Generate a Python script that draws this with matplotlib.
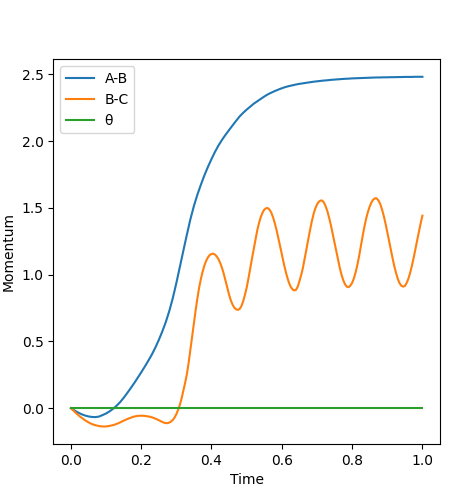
import matplotlib
matplotlib.use("Agg")
import matplotlib.pyplot as plt
import numpy as np

# time grids: A-B and theta every 0.01, B-C every 0.005 (it oscillates)
t_ab = np.linspace(0, 1, 101)
t_bc = np.linspace(0, 1, 201)

# momenta
ab = [0.000, -0.017, -0.032, -0.045, -0.055, -0.062, -0.066, -0.067, -0.063, -0.052,
      -0.040, -0.024, -0.005, 0.018, 0.045, 0.077, 0.112, 0.149, 0.187, 0.227,
      0.268, 0.310, 0.354, 0.400, 0.452, 0.510, 0.574, 0.645, 0.728, 0.825,
      0.937, 1.058, 1.180, 1.300, 1.415, 1.515, 1.600, 1.675, 1.745, 1.808,
      1.866, 1.920, 1.968, 2.010, 2.048, 2.083, 2.118, 2.152, 2.185, 2.212,
      2.236, 2.258, 2.280, 2.298, 2.316, 2.334, 2.350, 2.363, 2.375, 2.386,
      2.396, 2.405, 2.412, 2.418, 2.424, 2.429, 2.433, 2.437, 2.441, 2.445,
      2.448, 2.451, 2.454, 2.456, 2.459, 2.461, 2.463, 2.465, 2.467, 2.468,
      2.470, 2.471, 2.472, 2.473, 2.474, 2.475, 2.476, 2.477, 2.477, 2.478,
      2.478, 2.479, 2.479, 2.480, 2.480, 2.481, 2.481, 2.481, 2.482, 2.482,
      2.482]

bc = [0.000, -0.013, -0.026, -0.038, -0.050, -0.061, -0.071, -0.081, -0.090, -0.098,
      -0.106, -0.113, -0.119, -0.124, -0.128, -0.131, -0.134, -0.136, -0.137, -0.1375,
      -0.137, -0.135, -0.133, -0.130, -0.127, -0.123, -0.118, -0.113, -0.107, -0.100,
      -0.094, -0.088, -0.082, -0.077, -0.072, -0.067, -0.063, -0.060, -0.058, -0.057,
      -0.057, -0.057, -0.058, -0.060, -0.062, -0.065, -0.068, -0.073, -0.078, -0.084,
      -0.090, -0.097, -0.103, -0.109, -0.112, -0.112, -0.108, -0.100, -0.088, -0.070,
      -0.045, -0.013, 0.025, 0.073, 0.130, 0.190, 0.255, 0.340, 0.440, 0.545,
      0.640, 0.735, 0.825, 0.905, 0.970, 1.025, 1.070, 1.105, 1.130, 1.147,
      1.155, 1.157, 1.150, 1.136, 1.115, 1.086, 1.050, 1.005, 0.955, 0.902,
      0.850, 0.807, 0.775, 0.752, 0.740, 0.736, 0.743, 0.764, 0.800, 0.847,
      0.902, 0.970, 1.045, 1.118, 1.190, 1.262, 1.330, 1.385, 1.430, 1.463,
      1.487, 1.497, 1.499, 1.487, 1.465, 1.430, 1.386, 1.335, 1.276, 1.215,
      1.153, 1.092, 1.035, 0.985, 0.942, 0.910, 0.891, 0.882, 0.885, 0.908,
      0.950, 0.996, 1.050, 1.118, 1.190, 1.262, 1.330, 1.395, 1.450, 1.494,
      1.525, 1.545, 1.555, 1.555, 1.539, 1.510, 1.472, 1.422, 1.366, 1.302,
      1.237, 1.172, 1.108, 1.050, 0.998, 0.957, 0.927, 0.910, 0.906, 0.918,
      0.938, 0.972, 1.018, 1.074, 1.140, 1.215, 1.290, 1.360, 1.420, 1.470,
      1.510, 1.541, 1.562, 1.572, 1.571, 1.555, 1.529, 1.489, 1.440, 1.383,
      1.321, 1.255, 1.188, 1.124, 1.064, 1.012, 0.968, 0.936, 0.917, 0.910,
      0.915, 0.937, 0.969, 1.013, 1.065, 1.125, 1.189, 1.256, 1.322, 1.385,
      1.442]

theta = [0.0] * 101

fig = plt.figure(figsize=(4.73, 4.91), dpi=100)
ax = fig.add_axes([53.3 / 473, 1 - 444 / 491, (440 - 53.3) / 473, (444 - 59.3) / 491])

ax.plot(t_ab, ab, label="A-B")
ax.plot(t_bc, bc, label="B-C")
ax.plot(t_ab, theta, label="θ")

ax.set_xlabel("Time")
ax.set_ylabel("Momentum")
ax.legend(loc="upper left")

fig.savefig("out.png", dpi=100)
